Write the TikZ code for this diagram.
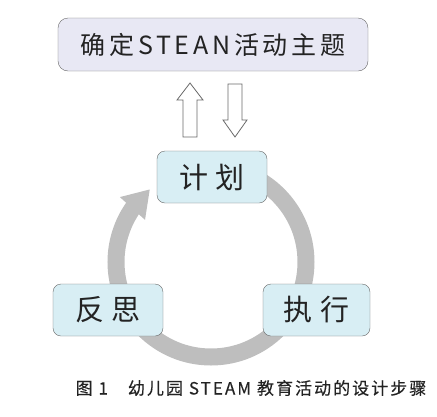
\documentclass[tikz,border=0pt]{standalone}
\usepackage{fontspec}
\setmainfont{Noto Sans CJK SC}
\usetikzlibrary{arrows.meta,bending,backgrounds}
\definecolor{themeback}{RGB}{232,232,244}
\definecolor{stepback}{RGB}{216,238,244}
\definecolor{ringgray}{RGB}{190,190,190}
\definecolor{edgegray}{RGB}{105,105,105}
\definecolor{inkgray}{RGB}{35,35,35}

\tikzset{
  themebox/.style={draw=edgegray,fill=themeback,rounded corners=10pt,minimum width=310pt,minimum height=53pt,
    text=inkgray,font=\fontsize{25}{25}\selectfont\addfontfeature{LetterSpace=15}},
  stepbox/.style={draw=edgegray,fill=stepback,rounded corners=8pt,minimum width=110pt,minimum height=52pt,
    text=inkgray,font=\fontsize{29}{29}\selectfont},
  hollow/.style={draw=edgegray,fill=white,line width=0.8pt,line join=miter},
}

\begin{document}
\begin{tikzpicture}[x=1pt,y=-1pt]
\useasboundingbox (0,0) rectangle (437,416);
\node [themebox] (theme) at (213,44.5) {确定STEAN活动主题};
\node [stepbox] (plan) at (212,177) {计\hspace{8pt}划};
\node [stepbox] (reflect) at (108,310) {反\hspace{8pt}思};
\node [stepbox,minimum width=107pt] (act) at (316.5,310) {执\hspace{8pt}行};
% two hollow arrows between the theme and the plan
\coordinate (upfoot) at (190,137);
\coordinate (downtop) at (235,84);
\draw [hollow] (upfoot) ++(-7,0) -- ++(0,-37) -- ++(-6,0) -- ++(13,-17) -- ++(13,17) -- ++(-6,0) -- ++(0,37) -- cycle;
\draw [hollow] (downtop) ++(-7,0) -- ++(0,36) -- ++(-5,0) -- ++(12,17) -- ++(12,-17) -- ++(-5,0) -- ++(0,-36) -- cycle;
\coordinate (ring) at (211,262);
% the cycle goes under the three steps
\begin{scope}[on background layer]
\draw [ringgray,line width=17pt,-{Triangle[width=32pt,length=26pt,flex]}]
  (ring) ++(-90:95) arc[start angle=-90,end angle=230,radius=95];
\end{scope}
\node [text=inkgray,font=\fontsize{17}{17}\selectfont\addfontfeature{LetterSpace=12,FakeBold=0.3}] (caption) at (251,388)
  {图 1\hspace{20pt}幼儿园 STEAM 教育活动的设计步骤};
\end{tikzpicture}
\end{document}
